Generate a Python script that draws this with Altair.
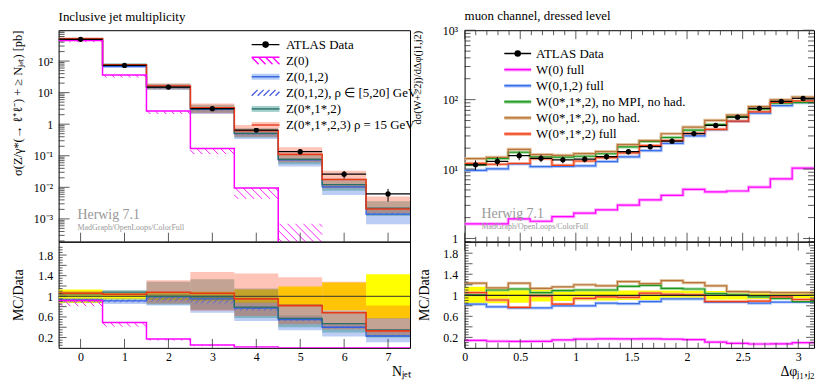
import altair as alt
import numpy as np
import pandas as pd

FONT = "Liberation Serif"

# ======================= LEFT: inclusive jet multiplicity =======================
NJET = [0, 1, 2, 3, 4, 5, 6, 7]
NJET_EDGES = [-0.5, 0.5, 1.5, 2.5, 3.5, 4.5, 5.5, 6.5, 7.5]
Z_DATA = [490, 73, 15, 3.1, 0.65, 0.135, 0.026, 0.0062]
Z_DATA_RELERR = [0.13, 0.06, 0.07, 0.09, 0.13, 0.19, 0.27, 0.43]
# Z(0) absolute values [pb] with its hatched band (bins 0..5)
Z0_VAL = [450, 36, 2.6, 0.17, 0.0096, 0.00002]
Z0_LO = [395, 30, 2.1, 0.113, 0.0043, 0.00001]
Z0_HI = [450, 36, 2.6, 0.17, 0.0096, 0.0007]
Z0_RATIO = [0.918, 0.493, 0.173, 0.055, 0.0148, 0.0, 0.0, 0.0]
# MC / Data ratios
Z012_R = [0.93, 0.91, 0.99, 0.95, 0.77, 0.55, 0.40, 0.23]
Z012_R_LO = [0.88, 0.85, 0.82, 0.68, 0.52, 0.34, 0.22, 0.11]
Z012_R_HI = [0.97, 0.96, 1.05, 1.03, 0.88, 0.63, 0.48, 0.32]
Z012RHO_R_LO = [0.88, 0.88, 0.90, 0.86, 0.72, 0.52, 0.38, 0.22]
Z012RHO_R_HI = [0.95, 0.94, 0.98, 0.94, 0.78, 0.57, 0.42, 0.25]
Z0S12_R = [1.05, 1.08, 1.00, 0.99, 0.79, 0.57, 0.47, 0.35]
Z0S12_R_LO = [1.00, 1.02, 0.84, 0.74, 0.58, 0.40, 0.30, 0.20]
Z0S12_R_HI = [1.09, 1.12, 1.28, 1.33, 1.15, 0.85, 0.72, 0.58]
Z0S123_R = [1.06, 1.04, 1.08, 1.06, 0.95, 0.82, 0.68, 0.33]
Z0S123_R_LO = [1.02, 1.00, 0.86, 0.72, 0.62, 0.46, 0.36, 0.24]
Z0S123_R_HI = [1.10, 1.07, 1.31, 1.47, 1.44, 1.37, 1.28, 0.82]
LEFT_LABELS = ["ATLAS Data", "Z(0)", "Z(0,1,2)", "Z(0,1,2), ρ ∈ [5,20] GeV",
               "Z(0*,1*,2)", "Z(0*,1*,2,3) ρ = 15 GeV"]
LEFT_YTICKS = [1e-3, 1e-2, 1e-1, 1, 10, 100]

# ======================= RIGHT: W + 2 jets, delta phi =======================
PHI_EDGES = [k * np.pi / 16 for k in range(17)]
PHI_CENTERS = [(PHI_EDGES[i] + PHI_EDGES[i + 1]) / 2 for i in range(16)]
W_DATA = [11.5, 12.9, 15.6, 14.3, 13.6, 13.9, 15.1, 17.8, 21.0, 25.2, 32.4, 42.5, 55.8, 75.0, 94.3, 104.0]
W_RELERR = [0.16, 0.15, 0.14, 0.12, 0.11, 0.10, 0.10, 0.09, 0.09, 0.09, 0.09, 0.08, 0.08, 0.07, 0.07, 0.07]
W0_FULL = [1.62, 1.62, 1.91, 1.77, 2.06, 2.32, 2.59, 3.02, 3.60, 4.19, 5.09, 4.68, 4.83, 5.50, 7.2, 10.3]
W012_R = [0.83, 0.78, 0.76, 0.76, 0.80, 0.80, 0.85, 0.84, 0.88, 0.93, 0.93, 0.87, 0.87, 0.85, 0.87, 0.87]
WNOMPI_R = [1.01, 1.10, 1.12, 1.05, 1.09, 1.10, 1.10, 1.17, 1.19, 1.13, 1.12, 1.03, 1.01, 0.97, 0.94, 0.88]
WNOHAD_R = [1.23, 1.14, 1.23, 1.13, 1.16, 1.20, 1.18, 1.26, 1.22, 1.28, 1.24, 1.18, 1.07, 1.06, 1.05, 1.05]
WFULL_R = [1.05, 0.91, 0.77, 0.99, 0.83, 0.94, 0.97, 0.96, 1.04, 1.02, 1.01, 0.88, 0.88, 0.89, 0.97, 0.92]
RIGHT_LABELS = ["ATLAS Data", "W(0) full", "W(0,1,2) full", "W(0*,1*,2), no MPI, no had.",
                "W(0*,1*,2), no had.", "W(0*,1*,2) full"]
RIGHT_XTICKS = [0, 0.5, 1, 1.5, 2, 2.5, 3]
RATIO_TICKS = [0.2, 0.4, 0.6, 0.8, 1.0, 1.2, 1.4, 1.6, 1.8]

TITLE_L = "Inclusive jet multiplicity"
TITLE_R = "muon channel, dressed level"
YTITLE_L = "σ(Z/γ*(→ ℓ⁺ℓ⁻) + ≥ Nⱼₑₜ) [pb]"
YTITLE_R = "dσ(W+≥2j)/dΔφ(j1,j2)"
YTITLE_RATIO = "MC/Data"
XTITLE_L = "Nⱼₑₜ"
XTITLE_R = "Δφⱼ₁,ⱼ₂"
HERWIG = "Herwig 7.1"
TOOLS = "MadGraph/OpenLoops/ColorFull"

# colours
BLUE, BLUE_BAND = "#3060e0", "#3d6fe0"
TEAL, TEAL_BAND = "#2a6e68", "#2a8a80"
RED, RED_BAND = "#e8381a", "#ff3c14"
MAG = "#ff00ff"
HATCH_BLUE = "#4a5ee0"
YELLOW = "#ffff00"

LW, RW = 354, 352
MH, RH = 213, 107


def step_df(edges, vals):
    rows = []
    for i, v in enumerate(vals):
        rows.append({"x": edges[i], "y": v, "o": 2 * i})
        rows.append({"x": edges[i + 1], "y": v, "o": 2 * i + 1})
    return pd.DataFrame(rows)


def hatch_df(edges, lo, hi, log, ppx, ppy, spacing, direction):
    rows = []
    for i in range(len(lo)):
        l, h = lo[i], hi[i]
        if h <= l or (log and l <= 0):
            continue
        f = np.log10 if log else (lambda t: t)
        fl, fh = f(l), f(h)
        x0, x1 = edges[i], edges[i + 1]
        Wp = (x1 - x0) * ppx
        Hp = (fh - fl) * ppy
        a = -Hp + spacing * 0.5
        while a < Wp:
            xs, xe = max(a, 0.0), min(a + Hp, Wp)
            if xe > xs:
                if direction == "\\":
                    ys, ye = fh - (xs - a) / ppy, fh - (xe - a) / ppy
                else:
                    ys, ye = fl + (xs - a) / ppy, fl + (xe - a) / ppy
                if log:
                    ys, ye = 10 ** ys, 10 ** ye
                rows.append({"x": x0 + xs / ppx, "x2": x0 + xe / ppx, "y": ys, "y2": ye})
            a += spacing
    return pd.DataFrame(rows)


class Panel:
    def __init__(self, W, H, xs, ys, xa, ya):
        self.W, self.H, self.xs, self.ys, self.xa, self.ya = W, H, xs, ys, xa, ya
        self.layers = []

    def X(self, f):
        return alt.X(f"{f}:Q", scale=self.xs, axis=self.xa)

    def Y(self, f):
        return alt.Y(f"{f}:Q", scale=self.ys, axis=self.ya)

    def step(self, edges, vals, color, width=1.2, opacity=1.0):
        self.layers.append(alt.Chart(step_df(edges, vals)).mark_line(
            color=color, strokeWidth=width, opacity=opacity, clip=True,
            strokeJoin="miter", strokeCap="butt").encode(
            x=self.X("x"), y=self.Y("y"), order=alt.Order("o:Q")))

    def band(self, edges, lo, hi, color, opacity):
        df = pd.DataFrame({"x0": edges[:-1], "x1": edges[1:], "lo": lo, "hi": hi})
        self.layers.append(alt.Chart(df).mark_rect(color=color, opacity=opacity, clip=True).encode(
            x=self.X("x0"), x2=alt.X2("x1"), y=self.Y("lo"), y2=alt.Y2("hi")))

    def hatch(self, df, color, width=0.9):
        self.layers.append(alt.Chart(df).mark_rule(color=color, strokeWidth=width, clip=True).encode(
            x=self.X("x"), x2=alt.X2("x2"), y=self.Y("y"), y2=alt.Y2("y2")))

    def yticks(self, vals, length, sides=("left",)):
        df = pd.DataFrame({"v": vals})
        for s in sides:
            a, b = (0, length) if s == "left" else (self.W - length, self.W)
            self.layers.append(alt.Chart(df).mark_rule(color="#333", strokeWidth=0.8).encode(
                y=self.Y("v"), x=alt.value(a), x2=alt.value(b)))

    def xticks(self, vals, length, sides=("bottom",)):
        df = pd.DataFrame({"v": vals})
        for s in sides:
            a, b = (self.H - length, self.H) if s == "bottom" else (0, length)
            self.layers.append(alt.Chart(df).mark_rule(color="#333", strokeWidth=0.8).encode(
                x=self.X("v"), y=alt.value(a), y2=alt.value(b)))

    def hline(self, val, color="#222", width=1.0):
        self.layers.append(alt.Chart(pd.DataFrame({"v": [val]})).mark_rule(
            color=color, strokeWidth=width).encode(y=self.Y("v"), x=alt.value(0), x2=alt.value(self.W)))

    def data(self, centers, edges, vals, relerr):
        df = pd.DataFrame({"c": centers, "x0": edges[:-1], "x1": edges[1:], "v": vals,
                           "lo": [v * (1 - e) for v, e in zip(vals, relerr)],
                           "hi": [v * (1 + e) for v, e in zip(vals, relerr)]})
        base = alt.Chart(df)
        self.layers.append(base.mark_rule(color="black", strokeWidth=1.3, clip=True).encode(
            x=self.X("x0"), x2=alt.X2("x1"), y=self.Y("v")))
        self.layers.append(base.mark_rule(color="black", strokeWidth=1.0, clip=True).encode(
            x=self.X("c"), y=self.Y("lo"), y2=alt.Y2("hi")))
        self.layers.append(base.mark_circle(color="black", size=28, opacity=1).encode(
            x=self.X("c"), y=self.Y("v")))

    def text(self, s, x, y, size, color="#999"):
        self.layers.append(alt.Chart(pd.DataFrame({"t": [s]})).mark_text(
            font=FONT, fontSize=size, color=color, align="left", baseline="middle").encode(
            text="t:N", x=alt.value(x), y=alt.value(y)))

    def legend(self, labels, fills, strokes, shapes, lx, ly, band_path, key, label_offset):
        # two stacked legends: light bands (fill, labels visible) + line symbols (stroke, labels hidden)
        hidden = [l + " " for l in labels]
        common = dict(orient="none", legendX=lx, legendY=ly, title=None, labelFont=FONT,
                      labelFontSize=13, labelColor="black", symbolSize=4, symbolStrokeWidth=1.4,
                      rowPadding=2.2, padding=0, labelOffset=label_offset, labelLimit=400,
                      symbolOpacity=1, labelBaseline="middle")
        fl = alt.Legend(symbolType=band_path, symbolStrokeColor="transparent", **common)
        sl = alt.Legend(labelOpacity=0, **common)
        self.layers.append(alt.Chart(pd.DataFrame({key + "f": labels})).mark_point(
            filled=True, opacity=0).encode(
            x=alt.value(0), y=alt.value(0),
            fill=alt.Fill(f"{key}f:N", scale=alt.Scale(domain=labels, range=fills), legend=fl, sort=labels)))
        self.layers.append(alt.Chart(pd.DataFrame({key + "s": hidden})).mark_point(
            filled=False, opacity=0).encode(
            x=alt.value(0), y=alt.value(0),
            stroke=alt.Stroke(f"{key}s:N", scale=alt.Scale(domain=hidden, range=strokes), legend=sl, sort=hidden),
            shape=alt.Shape(f"{key}s:N", scale=alt.Scale(domain=hidden, range=shapes), legend=sl, sort=hidden)))

    def chart(self):
        return alt.layer(*self.layers).properties(width=self.W, height=self.H)


def minor_log(lo, hi):
    out = []
    for k in range(-5, 4):
        for m in range(2, 10):
            v = m * 10.0 ** k
            if lo <= v <= hi:
                out.append(v)
    return out


RATIO_MINOR = [round(0.05 * i, 2) for i in range(1, 41) if (i % 4) != 0]
LOG_LABELS = ("datum.value >= 999 ? '10³' : datum.value >= 99 ? '10²' : datum.value >= 9 ? '10¹' : "
              "datum.value >= 0.9 ? '1' : datum.value >= 0.09 ? '10⁻¹' : datum.value >= 0.009 ? '10⁻²' : '10⁻³'")
RATIO_LABELS = "datum.value == 1 ? '1' : format(datum.value, '.1f')"
DOT = ("M2.6,0A2.6,2.6 0 1,1 -2.6,0A2.6,2.6 0 1,1 2.6,0"
       "M1.6,0A1.6,1.6 0 1,1 -1.6,0A1.6,1.6 0 1,1 1.6,0"
       "M0.6,0A0.6,0.6 0 1,1 -0.6,0A0.6,0.6 0 1,1 0.6,0")

# ---------------------------------------------------------------- left main
xs_l = alt.Scale(domain=[-0.5, 7.5], nice=False, zero=False)
ys_lm = alt.Scale(type="log", domain=[1.9e-4, 950], nice=False)
ys_r = alt.Scale(domain=[0, 2.06], nice=False, zero=False)
ppx_l = LW / 8.0
ppy_lm = MH / np.log10(950 / 1.9e-4)
ppy_lr = RH / 2.06

ya_lm = alt.Axis(values=LEFT_YTICKS, labelExpr=LOG_LABELS, title=YTITLE_L, titleAnchor="end",
                 titleX=-41, titleBaseline="middle", labelPadding=6, titleFontSize=12.5)
lm = Panel(LW, MH, xs_l, ys_lm, None, ya_lm)
mul = lambda r: [a * b for a, b in zip(r, Z_DATA)]
lm.band(NJET_EDGES, mul(Z012_R_LO), mul(Z012_R_HI), BLUE_BAND, 0.35)
lm.band(NJET_EDGES, mul(Z0S12_R_LO), mul(Z0S12_R_HI), TEAL_BAND, 0.4)
lm.band(NJET_EDGES, mul(Z0S123_R_LO), mul(Z0S123_R_HI), RED_BAND, 0.3)
lm.hatch(hatch_df(NJET_EDGES, mul(Z012RHO_R_LO), mul(Z012RHO_R_HI), True, ppx_l, ppy_lm, 6, "/"), HATCH_BLUE)
lm.hatch(hatch_df(NJET_EDGES, Z0_LO, Z0_HI, True, ppx_l, ppy_lm, 8, "\\"), MAG)
lm.step(NJET_EDGES, mul(Z012_R), BLUE, 1.3)
lm.step(NJET_EDGES, mul(Z0S12_R), TEAL, 1.3)
lm.step(NJET_EDGES, mul(Z0S123_R), RED, 1.6)
lm.step(NJET_EDGES[:7], Z0_VAL, MAG, 1.5)
lm.data(NJET, NJET_EDGES, Z_DATA, Z_DATA_RELERR)
lm.yticks(LEFT_YTICKS, 11)
lm.yticks(minor_log(1.9e-4, 950), 6)
lm.xticks(NJET, 9)
lm.text(HERWIG, 19, 186, 14)
lm.text(TOOLS, 19, 199, 8)
lm.text(TITLE_L, 0, -13, 13, "black")
L_SHAPES = ["M-14,0H14" + DOT,
            "M-14,-3.5H14M-14,-3.5L-7,3.5M-7,-3.5L0,3.5M0,-3.5L7,3.5M7,-3.5L14,3.5",
            "M-14,0H14",
            "M-14,3L-8,-3M-8,3L-2,-3M-2,3L4,-3M4,3L10,-3M10,3L14,-1",
            "M-14,0H14", "M-14,0H14"]
lm.legend(LEFT_LABELS, ["transparent", "transparent", "#b3ccf4", "transparent", "#a3d0cc", "#ffc5b9"],
          ["black", MAG, BLUE, HATCH_BLUE, TEAL, RED], L_SHAPES, 202, 8,
          "M-14,-3H14V3H-14Z", "ll", 14)
left_main = lm.chart()

# ---------------------------------------------------------------- left ratio
xa_lr = alt.Axis(values=NJET, format="d", title=XTITLE_L, titleAnchor="end", labelPadding=4,
                 labelFlush=False, titleFontSize=14, titlePadding=2)
ya_lr = alt.Axis(values=RATIO_TICKS, labelExpr=RATIO_LABELS, title=YTITLE_RATIO, titleX=-40,
                 titleBaseline="middle", labelPadding=6, titleFontSize=14)
lr = Panel(LW, RH, xs_l, ys_r, xa_lr, ya_lr)
lr.band(NJET_EDGES, [1 - e for e in Z_DATA_RELERR], [1 + e for e in Z_DATA_RELERR], YELLOW, 1.0)
lr.band(NJET_EDGES, Z012_R_LO, Z012_R_HI, BLUE_BAND, 0.35)
lr.band(NJET_EDGES, Z0S12_R_LO, Z0S12_R_HI, TEAL_BAND, 0.4)
lr.band(NJET_EDGES, Z0S123_R_LO, Z0S123_R_HI, RED_BAND, 0.3)
lr.hatch(hatch_df(NJET_EDGES, Z012RHO_R_LO, Z012RHO_R_HI, False, ppx_l, ppy_lr, 6, "/"), HATCH_BLUE)
lr.hatch(hatch_df(NJET_EDGES[:6], [a / b for a, b in zip(Z0_LO[:5], Z_DATA)],
                  [a / b for a, b in zip(Z0_HI[:5], Z_DATA)], False, ppx_l, ppy_lr, 8, "\\"), MAG)
lr.hline(1.0, "#333", 1.0)
lr.step(NJET_EDGES, Z012_R, BLUE, 1.3)
lr.step(NJET_EDGES, Z0S12_R, TEAL, 1.3)
lr.step(NJET_EDGES, Z0S123_R, RED, 1.6)
lr.step(NJET_EDGES, Z0_RATIO, MAG, 1.5)
lr.yticks(RATIO_TICKS, 8)
lr.yticks(RATIO_MINOR, 4)
lr.xticks(NJET, 9)
left_ratio = lr.chart()

# ---------------------------------------------------------------- right main
xs_r = alt.Scale(domain=[0, np.pi], nice=False, zero=False)
ys_rm = alt.Scale(type="log", domain=[0.9, 1000], nice=False)
ys_rr = alt.Scale(domain=[0, 2.02], nice=False, zero=False)
ya_rm = alt.Axis(values=[1, 10, 100, 1000], labelExpr=LOG_LABELS, title=YTITLE_R, titleAnchor="end",
                 titleX=-47, titleBaseline="middle", labelPadding=7, titleFontSize=10.5)
rm = Panel(RW, MH, xs_r, ys_rm, None, ya_rm)
wmul = lambda r: [a * b for a, b in zip(r, W_DATA)]
SERIES_R = [(W0_FULL, MAG, "#ffa0ff"), (wmul(W012_R), "#3a6ee8", "#a8c4f8"),
            (wmul(WNOMPI_R), "#1e961e", "#98d498"), (wmul(WNOHAD_R), "#b8743a", "#e0c098"),
            (wmul(WFULL_R), "#f03c14", "#f8a890")]
for vals, c, lc in SERIES_R:
    rm.step(PHI_EDGES, vals, lc, 3.2, 0.9)
for vals, c, lc in SERIES_R:
    rm.step(PHI_EDGES, vals, c, 1.2)
rm.data(PHI_CENTERS, PHI_EDGES, W_DATA, W_RELERR)
RXMIN = [round(0.1 * i, 1) for i in range(1, 32) if i % 5 != 0]
rm.yticks([1, 10, 100, 1000], 11, ("left", "right"))
rm.yticks(minor_log(0.9, 1000), 6, ("left", "right"))
rm.xticks(RIGHT_XTICKS, 9, ("bottom", "top"))
rm.xticks(RXMIN, 5, ("bottom", "top"))
rm.text(HERWIG, 17, 185, 14)
rm.text(TOOLS, 17, 198, 8)
rm.text(TITLE_R, 0, -14, 13, "black")
R_SHAPES = ["M-13.5,0H13.5" + DOT,
            "M-13.5,0H13.5", "M-13.5,0H13.5", "M-13.5,0H13.5", "M-13.5,0H13.5", "M-13.5,0H13.5"]
rm.legend(RIGHT_LABELS, ["transparent", "#ffa0ff", "#a8c4f8", "#98d498", "#e0c098", "#f8a890"],
          ["black", MAG, "#3a6ee8", "#1e961e", "#b8743a", "#f03c14"], R_SHAPES, 47, 17,
          "M-13.5,-1.8H13.5V1.8H-13.5Z", "rr", 12)
right_main = rm.chart()

# ---------------------------------------------------------------- right ratio
xa_rr = alt.Axis(values=RIGHT_XTICKS, labelExpr="format(datum.value, '~g')", title=XTITLE_R,
                 titleAnchor="end", labelPadding=4, labelFlush=False, titleFontSize=14, titlePadding=2)
ya_rr = alt.Axis(values=RATIO_TICKS, labelExpr=RATIO_LABELS, title=YTITLE_RATIO, titleX=-40,
                 titleBaseline="middle", labelPadding=7, titleFontSize=14)
rr = Panel(RW, RH, xs_r, ys_rr, xa_rr, ya_rr)
rr.band(PHI_EDGES, [1 - e for e in W_RELERR], [1 + e for e in W_RELERR], YELLOW, 1.0)
RATIOS_R = [([a / b for a, b in zip(W0_FULL, W_DATA)], MAG, "#ffa0ff"), (W012_R, "#3a6ee8", "#a8c4f8"),
            (WNOMPI_R, "#1e961e", "#98d498"), (WNOHAD_R, "#b8743a", "#e0c098"),
            (WFULL_R, "#f03c14", "#f8a890")]
for vals, c, lc in RATIOS_R:
    rr.step(PHI_EDGES, vals, lc, 3.0, 0.9)
for vals, c, lc in RATIOS_R:
    rr.step(PHI_EDGES, vals, c, 1.2)
rr.hline(1.0, "#222", 1.2)
rr.yticks(RATIO_TICKS, 8, ("left", "right"))
rr.yticks(RATIO_MINOR, 4, ("left", "right"))
rr.xticks(RIGHT_XTICKS, 9, ("bottom", "top"))
rr.xticks(RXMIN, 5, ("bottom", "top"))
right_ratio = rr.chart()

chart = alt.concat(left_main, right_main, left_ratio, right_ratio, columns=2,
                   spacing={"row": 0, "column": 55}, bounds="flush").resolve_scale(
    x="independent", y="independent", fill="independent", stroke="independent", shape="independent"
).resolve_legend(fill="independent", stroke="independent", shape="independent").properties(
    padding={"left": 3, "top": 0, "right": 0, "bottom": 0}
).configure_view(stroke="black", strokeWidth=1).configure_axis(
    grid=False, domain=False, ticks=False, labelFont=FONT, titleFont=FONT, labelColor="black",
    titleColor="black", titleFontWeight="normal", labelFontSize=12)

chart.save("out.html", embed_options={"renderer": "svg", "actions": False})
